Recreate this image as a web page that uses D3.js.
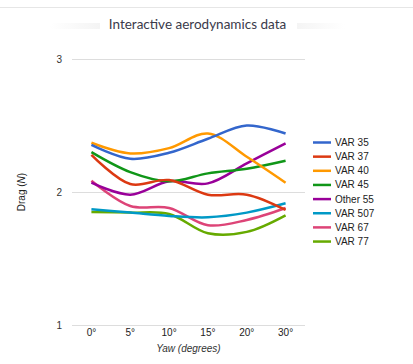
<!DOCTYPE html>
<html><head><meta charset="utf-8">
<script src="https://cdn.jsdelivr.net/npm/d3@7"></script>
<style>body{margin:0;background:#fff;} svg{display:block;}</style>
</head><body>
<svg id="c" width="413" height="364"></svg>
<script>
const categories = ["0°","5°","10°","15°","20°","30°"];
const seriesNames = ["VAR 35","VAR 37","VAR 40","VAR 45","Other 55","VAR 507","VAR 67","VAR 77"];
const var35  = [2.355, 2.25, 2.295, 2.40, 2.50, 2.44];
const var37  = [2.28, 2.06, 2.09, 1.98, 1.98, 1.865];
const var40  = [2.37, 2.29, 2.33, 2.44, 2.265, 2.07];
const var45  = [2.30, 2.15, 2.08, 2.14, 2.175, 2.235];
const other55= [2.07, 1.98, 2.08, 2.065, 2.215, 2.366];
const var507 = [1.87, 1.845, 1.82, 1.81, 1.845, 1.915];
const var67  = [2.085, 1.895, 1.88, 1.75, 1.79, 1.88];
const var77  = [1.85, 1.845, 1.835, 1.69, 1.70, 1.825];
const yTicks = [1, 2, 3];
const colors = ["#3366cc","#dc3912","#ff9900","#109618","#990099","#0099c6","#dd4477","#66aa00"];
const seriesValues = [var35, var37, var40, var45, other55, var507, var67, var77];

const svg = d3.select("#c");
const L = 72, R = 305, T = 59, B = 325;
const x = d3.scaleBand().domain(categories).range([L, R]);
const y = d3.scaleLinear().domain([1, 3]).range([B, T]);

// title decoration
svg.append("line").attr("x1",0).attr("x2",413).attr("y1",7.5).attr("y2",7.5).attr("stroke","#e6e6e6").attr("stroke-width",1);
const grad = svg.append("defs").append("linearGradient").attr("id","sh").attr("x1","0").attr("x2","1");
grad.append("stop").attr("offset","0").attr("stop-color","#fff");
grad.append("stop").attr("offset","0.2").attr("stop-color","#f2f2f2");
grad.append("stop").attr("offset","0.8").attr("stop-color","#f2f2f2");
grad.append("stop").attr("offset","1").attr("stop-color","#fff");
svg.append("rect").attr("x",50).attr("y",23).attr("width",295).attr("height",6).attr("fill","url(#sh)");
svg.append("rect").attr("x",100).attr("y",14).attr("width",197).attr("height",20).attr("fill","#fff");
svg.append("text").attr("x",197.5).attr("y",29).attr("text-anchor","middle")
  .attr("font-family","Lato, 'Noto Sans', sans-serif").attr("font-size",13.5).attr("fill","#3a3a4a")
  .text("Interactive aerodynamics data");

// grid
const yAxis = d3.axisLeft(y).tickValues(yTicks).tickSize(-(R-L)).tickFormat(d3.format("d")).tickPadding(10);
const gy = svg.append("g").attr("transform",`translate(${L},0)`).call(yAxis);
gy.select(".domain").remove();
gy.selectAll(".tick line").attr("stroke","#dddddd").attr("stroke-width",1);
gy.selectAll(".tick text").attr("font-family","Arial, 'Liberation Sans', sans-serif").attr("font-size",10).attr("fill","#333");

const xAxis = d3.axisBottom(x).tickSize(0).tickPadding(4);
const gx = svg.append("g").attr("transform",`translate(0,${B})`).call(xAxis);
gx.select(".domain").remove();
gx.selectAll(".tick text").attr("font-family","Arial, 'Liberation Sans', sans-serif").attr("font-size",10).attr("fill","#222");

svg.append("text").attr("x",(L+R)/2).attr("y",352).attr("text-anchor","middle")
  .attr("font-family","Arial, 'Liberation Sans', sans-serif").attr("font-size",10).attr("font-style","italic").attr("fill","#333")
  .text("Yaw (degrees)");
svg.append("text").attr("transform",`translate(25,${(T+B)/2}) rotate(-90)`).attr("text-anchor","middle")
  .attr("font-family","Arial, 'Liberation Sans', sans-serif").attr("font-size",10).attr("fill","#222")
  .html('Drag (<tspan font-style="italic">N</tspan>)');

// lines
const line = d3.line().x((d,i)=>x(categories[i]) + x.bandwidth()/2).y(d=>y(d)).curve(d3.curveCatmullRom.alpha(0.5));
const order = [7,6,5,4,3,2,1,0];
order.forEach(i=>{
  svg.append("path").attr("d", line(seriesValues[i])).attr("fill","none")
    .attr("stroke", colors[i]).attr("stroke-width",2.5).attr("stroke-linejoin","round").attr("stroke-linecap","butt");
});

// legend
const lg = svg.append("g");
seriesNames.forEach((n,i)=>{
  const yy = 142.5 + i*14.15;
  lg.append("line").attr("x1",313).attr("x2",331).attr("y1",yy).attr("y2",yy).attr("stroke",colors[i]).attr("stroke-width",2.5);
  lg.append("text").attr("x",335).attr("y",yy+3.5).attr("font-family","Arial, 'Liberation Sans', sans-serif")
    .attr("font-size",10).attr("fill","#222").text(n);
});
</script>
</body></html>
